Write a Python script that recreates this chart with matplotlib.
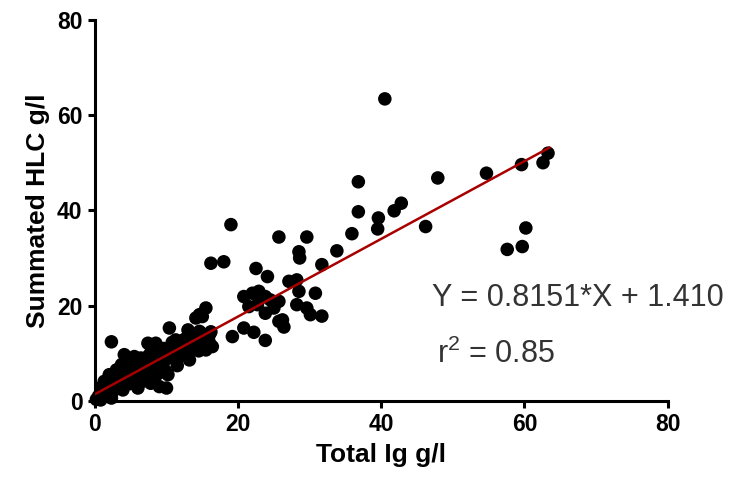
import numpy as np
import matplotlib.pyplot as plt

plt.rcParams['font.family'] = ['Liberation Sans', 'DejaVu Sans']

# total Ig (g/l) vs summated HLC (g/l)
total_ig = [0.2, 0.5, 0.8, 1.0, 1.2, 1.3, 1.5, 1.8, 2.0, 2.1, 2.3, 2.3, 2.5, 2.8, 3.0, 3.2,
            3.5, 3.7, 3.9, 4.1, 4.2, 4.4, 4.6, 4.8, 5.0, 5.2, 5.5, 5.6, 5.8, 6.0, 6.2, 6.4,
            6.6, 6.8, 7.0, 7.2, 7.4, 7.6, 7.8, 7.9, 8.1, 8.3, 8.5, 8.7, 9.0, 9.0, 9.3, 9.6,
            9.8, 10.0, 10.0, 10.2, 10.4, 10.5, 10.8, 11.0, 11.3, 11.5, 11.8, 12.0, 12.3, 12.6,
            13.0, 13.0, 13.2, 13.5, 13.8, 14.1, 14.2, 14.5, 14.6, 14.8, 15.1, 15.3, 15.5, 15.5,
            15.8, 16.0, 16.2, 16.4, 16.0, 14.6, 15.0,
            3.0, 4.0, 5.4, 6.5, 7.5, 8.0, 9.5, 10.8, 12.2, 13.6, 1.0, 1.8, 3.4, 5.0, 6.2,
            16.2, 18.0, 19.0, 19.2, 20.8, 22.2, 23.8, 20.8, 22.0, 22.9, 23.8, 24.5, 25.7,
            21.5, 22.7, 23.8, 25.0, 22.5, 24.1, 25.7, 27.1, 28.2, 28.5, 28.5, 28.6, 29.6,
            31.7, 30.8, 28.2, 29.6, 30.1, 31.7, 26.2, 26.4, 25.7,
            33.8, 35.9, 36.8, 36.8, 39.6, 39.5, 41.8, 42.8, 40.5, 46.2, 47.9, 54.7, 59.6,
            62.6, 63.3, 60.2, 57.6, 59.7]
hlc = [0.3, 1.0, 0.2, 1.8, 0.9, 4.1, 2.5, 1.2, 5.5, 3.3, 0.6, 12.4, 2.0, 4.2, 2.8, 5.0,
       3.5, 7.6, 2.3, 9.7, 5.8, 4.5, 7.0, 3.6, 8.4, 6.0, 9.3, 4.8, 7.4, 2.7, 5.5, 9.0,
       6.6, 4.2, 8.0, 5.9, 12.1, 4.1, 3.7, 10.5, 7.2, 8.8, 12.1, 5.6, 3.0, 9.5, 7.5, 11.0,
       6.4, 2.7, 8.8, 5.5, 15.3, 10.3, 12.3, 9.0, 12.8, 7.4, 10.8, 9.5, 11.8, 13.0,
       14.9, 10.3, 8.6, 12.0, 11.2, 17.4, 13.0, 10.5, 18.1, 12.2, 14.0, 11.6, 19.5, 10.7,
       13.5, 12.2, 14.5, 11.4, 13.9, 14.6, 17.7,
       6.5, 6.8, 7.0, 7.8, 9.5, 6.5, 9.5, 11.0, 12.6, 13.2, 3.0, 3.5, 4.6, 6.3, 7.0,
       28.9, 29.2, 37.0, 13.5, 15.3, 14.4, 12.7, 21.9, 22.6, 23.0, 21.9, 21.2, 20.9,
       19.8, 20.2, 18.4, 19.5, 27.8, 26.1, 34.4, 25.1, 25.4, 23.0, 31.3, 30.0, 34.4,
       28.6, 22.6, 20.2, 19.5, 18.1, 17.8, 17.0, 15.5, 16.7,
       31.5, 35.1, 46.0, 39.7, 38.4, 36.1, 39.9, 41.5, 63.4, 36.6, 46.8, 47.8, 49.6,
       50.0, 52.0, 36.3, 31.8, 32.4]

slope = 0.8151
intercept = 1.410
fit_x = np.array([0, 63.5])
ticks = [0, 20, 40, 60, 80]

fig = plt.figure(figsize=(7.36, 4.83), dpi=100)
ax = fig.add_axes([0.129, 0.170, 0.778, 0.789])

ax.scatter(total_ig, hlc, s=95, color='black', edgecolors='none', zorder=3, clip_on=False)
ax.plot(fit_x, slope*fit_x+intercept, color='#a80000', lw=1.8, zorder=4)

ax.set_xlim(0, 80)
ax.set_ylim(0, 80)
ax.set_xticks(ticks)
ax.set_yticks(ticks)
for s in ['top', 'right']:
    ax.spines[s].set_visible(False)
for s in ['left', 'bottom']:
    ax.spines[s].set_linewidth(2.2)
ax.tick_params(direction='out', length=5, width=2.2, labelsize=16.5, pad=4)
for lab in ax.get_xticklabels()+ax.get_yticklabels():
    lab.set_fontweight('bold')

ax.set_xlabel('Total Ig g/l', fontsize=19, fontweight='bold', labelpad=5)
ax.set_ylabel('Summated HLC g/l', fontsize=19, fontweight='bold', labelpad=5)

ax.text(47.1, 21.6, 'Y = 0.8151*X + 1.410', fontsize=22, color='#333333', va='center')
ax.text(47.8, 9.7, r'r$\mathregular{^2}$ = 0.85', fontsize=22, color='#333333', va='center')

plt.savefig('out.png', dpi=100)
